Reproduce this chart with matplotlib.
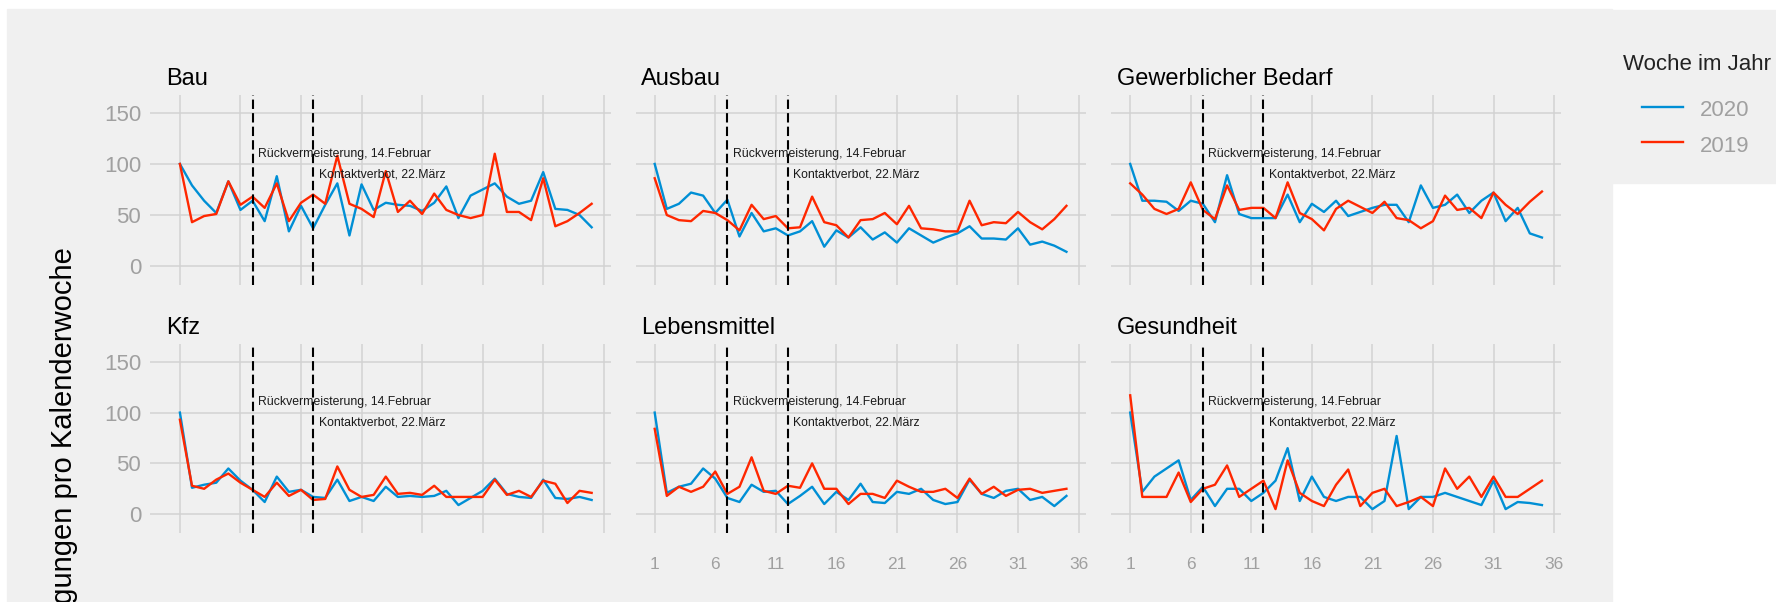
import matplotlib
matplotlib.use('Agg')
import matplotlib.pyplot as plt
import matplotlib.patches as patches
from matplotlib.lines import Line2D

plt.rcParams['font.family'] = ['Liberation Sans', 'DejaVu Sans']

# --- Daten ---
weeks = list(range(1, 36))

bau_2020 = [100, 79, 64, 52, 83, 55, 64, 44, 88, 34, 59, 37, 60, 81, 30, 80, 55, 62,
            60, 59, 54, 62, 78, 47, 69, 75, 81, 68, 61, 64, 92, 56, 55, 50, 38]
bau_2019 = [100, 43, 49, 51, 83, 60, 68, 57, 81, 44, 62, 70, 61, 108, 61, 56, 48, 93,
            53, 64, 51, 71, 55, 50, 47, 50, 110, 53, 53, 45, 86, 39, 44, 52, 61]

ausbau_2020 = [100, 56, 61, 72, 69, 52, 65, 29, 52, 34, 37, 30, 34, 44, 19, 35, 28, 38,
               26, 33, 23, 37, 30, 23, 28, 32, 39, 27, 27, 26, 37, 21, 24, 20, 14]
ausbau_2019 = [86, 50, 45, 44, 54, 52, 45, 35, 60, 46, 49, 37, 38, 68, 43, 40, 28, 45,
               46, 52, 41, 59, 37, 36, 34, 34, 64, 40, 43, 42, 53, 43, 36, 46, 59]

gewerbe_2020 = [100, 64, 64, 63, 54, 64, 61, 43, 89, 51, 47, 47, 47, 70, 43, 61, 53, 64,
                49, 53, 57, 60, 60, 43, 79, 57, 60, 70, 52, 64, 72, 44, 57, 32, 28]
gewerbe_2019 = [81, 70, 56, 51, 56, 82, 55, 46, 79, 55, 57, 57, 47, 82, 52, 46, 35, 56,
                64, 58, 52, 63, 47, 45, 37, 44, 69, 55, 57, 47, 72, 60, 51, 63, 73]

kfz_2020 = [100, 26, 29, 31, 45, 33, 24, 12, 37, 22, 24, 17, 16, 34, 13, 17, 13, 27,
            17, 18, 17, 18, 23, 9, 16, 23, 35, 20, 17, 16, 34, 16, 15, 17, 14]
kfz_2019 = [93, 28, 25, 34, 40, 31, 24, 17, 31, 18, 24, 14, 15, 47, 24, 17, 19, 37,
            20, 21, 19, 28, 17, 17, 17, 17, 34, 19, 23, 17, 33, 30, 11, 23, 21]

leben_2020 = [100, 21, 27, 30, 45, 35, 16, 12, 29, 22, 23, 10, 18, 27, 10, 22, 14, 30,
              12, 11, 22, 20, 25, 14, 10, 12, 34, 20, 16, 23, 25, 14, 17, 8, 18]
leben_2019 = [84, 18, 27, 22, 27, 42, 20, 27, 56, 23, 20, 28, 26, 50, 25, 25, 10, 20,
              20, 16, 33, 27, 22, 22, 25, 16, 35, 20, 27, 18, 24, 25, 21, 23, 25]

gesund_2020 = [100, 22, 37, 45, 53, 14, 27, 8, 25, 25, 13, 21, 33, 65, 13, 37, 17, 13,
               17, 17, 5, 13, 77, 5, 17, 17, 21, 17, 13, 9, 33, 5, 12, 11, 9]
gesund_2019 = [117, 17, 17, 17, 41, 12, 25, 29, 48, 17, 25, 33, 5, 53, 21, 13, 8, 29,
               44, 8, 21, 25, 8, 12, 17, 8, 45, 25, 37, 17, 37, 17, 17, 25, 33]

sectors = ['Bau', 'Ausbau', 'Gewerblicher Bedarf', 'Kfz', 'Lebensmittel', 'Gesundheit']
series_2020 = [bau_2020, ausbau_2020, gewerbe_2020, kfz_2020, leben_2020, gesund_2020]
series_2019 = [bau_2019, ausbau_2019, gewerbe_2019, kfz_2019, leben_2019, gesund_2019]

events = [(7, 110, 'Rückvermeisterung, 14.Februar'), (12, 90, 'Kontaktverbot, 22.März')]

# --- Farben ---
BG = '#F0F0F0'
GRID = '#D2D2D2'
BLUE = '#008FD5'
RED = '#FF2700'
TICK = '#A0A0A0'

W, H = 1776, 602
fig = plt.figure(figsize=(W / 100, H / 100), dpi=100)
fig.patch.set_facecolor('white')


def fx(x):
    return x / W


def fy(y):
    return 1 - y / H


# grauer Hintergrund (Plot + Legende)
fig.add_artist(patches.Rectangle((fx(7), 0), fx(1612 - 7), (H - 9) / H,
                                 transform=fig.transFigure, color=BG, zorder=-10))
fig.add_artist(patches.Rectangle((fx(1612), fy(183)), fx(W - 1612), (183 - 10) / H,
                                 transform=fig.transFigure, color=BG, zorder=-10))

x_one = [179.9, 654.7, 1130.2]   # Pixelposition von Woche 1 je Spalte
unit = 12.11
rows_px = [(95, 285), (344, 533)]

for i, name in enumerate(sectors):
    row, col = divmod(i, 3)
    xlo = -1.5 if col == 0 else -0.55
    xhi = 36.6
    left = x_one[col] + (xlo - 1) * unit
    top, bot = rows_px[row]
    ax = fig.add_axes([fx(left), fy(bot), fx((xhi - xlo) * unit), (bot - top) / H])
    ax.set_facecolor('none')
    for s in ax.spines.values():
        s.set_visible(False)
    ax.set_xlim(xlo, xhi)
    ax.set_ylim(-18.5, 167.5)
    ax.set_xticks(range(1, 37, 5))
    ax.set_yticks([0, 50, 100, 150])
    ax.grid(color=GRID, lw=1.1)
    ax.set_axisbelow(True)
    ax.tick_params(length=0)
    ax.tick_params(axis='y', labelsize=16, labelcolor=TICK, pad=6, labelleft=(col == 0))
    ax.tick_params(axis='x', labelsize=12.5, labelcolor=TICK, pad=17,
                   labelbottom=(row == 1 and col > 0))

    ax.plot(weeks, series_2020[i], color=BLUE, lw=1.7)
    ax.plot(weeks, series_2019[i], color=RED, lw=1.7)

    for wk, yv, label in events:
        ax.axvline(wk, color='black', lw=1.5, dashes=(4.5, 2))
        ax.text(wk + 0.45, yv, label, fontsize=8.8, color='#1a1a1a', ha='left', va='center')

    fig.text(fx(x_one[col] - 13.5), fy(85 if row == 0 else 334), name,
             fontsize=17, color='black', ha='left', va='baseline')

# Achsentitel (links abgeschnitten wie im Original)
fig.text(fx(64), fy(247), 'Eintragungen pro Kalenderwoche', rotation=90,
         fontsize=21, color='black', ha='center', va='top')

# Legende
fig.text(fx(1623), fy(70), 'Woche im Jahr', fontsize=16, color='#222222',
         ha='left', va='baseline')
for yy, col_, lab in [(106.7, BLUE, '2020'), (141.7, RED, '2019')]:
    fig.add_artist(Line2D([fx(1642), fx(1683)], [fy(yy), fy(yy)],
                          transform=fig.transFigure, color=col_, lw=1.7))
    fig.text(fx(1700), fy(yy + 9.8), lab, fontsize=16, color=TICK,
             ha='left', va='baseline')

fig.savefig('out.png', dpi=100, facecolor=fig.get_facecolor())
